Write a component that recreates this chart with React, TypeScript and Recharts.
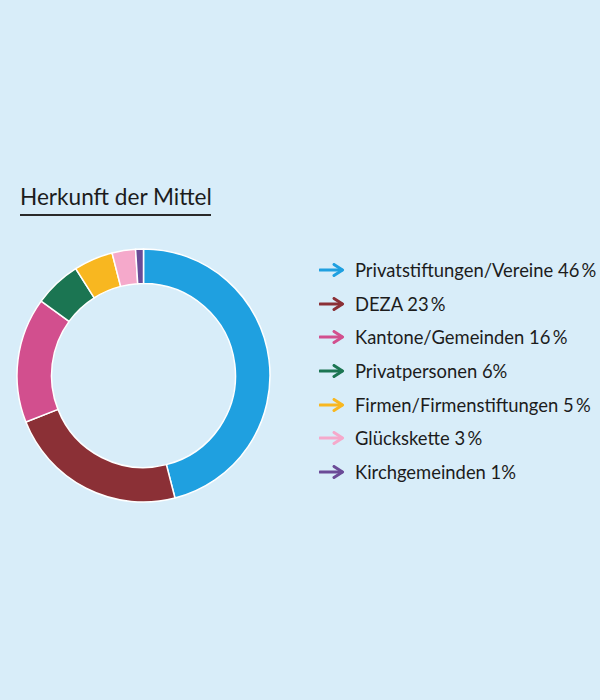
import { PieChart, Pie, Cell, Legend } from 'recharts';

const categories = [
  'Privatstiftungen/Vereine',
  'DEZA',
  'Kantone/Gemeinden',
  'Privatpersonen',
  'Firmen/Firmenstiftungen',
  'Glückskette',
  'Kirchgemeinden',
];
const shares = [46, 23, 16, 6, 5, 3, 1];
const shareLabels = ['46\u2009%', '23\u2009%', '16\u2009%', '6%', '5\u2009%', '3\u2009%', '1%'];

const COLORS = ['#1fa0e0', '#8b3036', '#d24f8e', '#1b7552', '#f8b720', '#f5a9cb', '#6b4b97'];
const FONT = 'Lato, "Open Sans", sans-serif';

const data = categories.map((name, i) => ({ name, value: shares[i], label: shareLabels[i] }));

function Arrow({ color }: { color: string }) {
  return (
    <svg width={26} height={14} style={{ display: 'block' }}>
      <line x1={1} y1={7} x2={23} y2={7} stroke={color} strokeWidth={3} strokeLinecap="round" />
      <polyline points="15,1.5 23.5,7 15,12.5" fill="none" stroke={color} strokeWidth={3} strokeLinecap="round" strokeLinejoin="round" />
    </svg>
  );
}

function LegendList() {
  return (
    <div style={{ fontFamily: FONT }}>
      {data.map((d, i) => (
        <div key={d.name} style={{ display: 'flex', alignItems: 'center', height: 33.7 }}>
          <Arrow color={COLORS[i]} />
          <span style={{ marginLeft: 10, fontSize: 18.4, color: '#1c1c1c', whiteSpace: 'nowrap' }}>
            {d.name} {d.label}
          </span>
        </div>
      ))}
    </div>
  );
}

export default function App() {
  return (
    <div style={{ position: 'absolute', left: 0, top: 0, width: 600, height: 700, background: '#d8edf9', overflow: 'hidden' }}>
      <div
        style={{
          position: 'absolute',
          left: 20,
          top: 184,
          width: 191,
          fontFamily: FONT,
          fontSize: 22.6,
          color: '#1c1c1c',
          borderBottom: '2px solid #2a2a2a',
          paddingBottom: 4,
          lineHeight: '26px',
          whiteSpace: 'nowrap',
        }}
      >
        Herkunft der Mittel
      </div>
      <PieChart
        width={600}
        height={700}
        margin={{ top: 0, right: 0, bottom: 0, left: 0 }}
        style={{ position: 'absolute', left: 0, top: 0 }}
      >
        <Pie
          data={data}
          dataKey="value"
          nameKey="name"
          cx={143.5}
          cy={375.5}
          innerRadius={92}
          outerRadius={126.5}
          startAngle={90}
          endAngle={-270}
          stroke="#ffffff"
          strokeWidth={1.5}
          isAnimationActive={false}
        >
          {data.map((_, i) => (
            <Cell key={`cell-${i}`} fill={COLORS[i]} />
          ))}
        </Pie>
        <Legend
          content={() => <LegendList />}
          wrapperStyle={{ position: 'absolute', left: 319, top: 253, width: 290 }}
        />
      </PieChart>
    </div>
  );
}
